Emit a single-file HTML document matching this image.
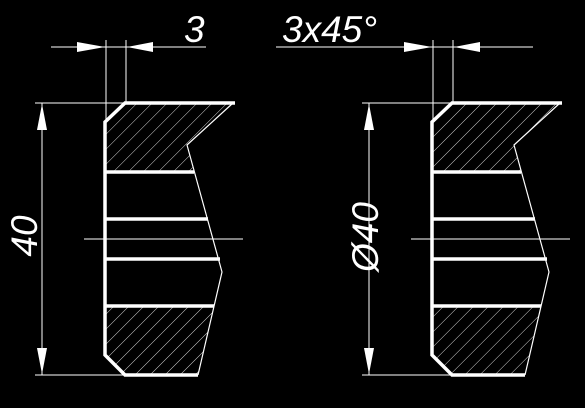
<!DOCTYPE html>
<html><head><meta charset="utf-8"><style>
html,body{margin:0;padding:0;background:#000;}
svg{display:block;}
text{font-family:"Liberation Sans",sans-serif;font-style:italic;fill:#fff;}
</style></head><body>
<svg id="d" width="585" height="408" viewBox="0 0 585 408">
<defs>
<pattern id="hatch" patternUnits="userSpaceOnUse" width="10.6" height="10.6" patternTransform="rotate(45)">
<rect width="10.6" height="10.6" fill="#000"/><line x1="0" y1="0" x2="0" y2="10.6" stroke="#fff" stroke-width="0.8"/>
</pattern>
</defs>
<g id="g1"></g>
<g id="g2"></g>
<text x="184" y="42" font-size="37">3</text>
<text x="282" y="42" font-size="37">3x45°</text>
<line x1="276" y1="47" x2="380" y2="47" stroke="#fff" stroke-width="1"/>
<text transform="translate(37,236) rotate(-90)" text-anchor="middle" font-size="37">40</text>
<text transform="translate(378,237) rotate(-90)" text-anchor="middle" font-size="37">Ø40</text>
</svg>
<script>
function el(g,tag,a){const e=document.createElementNS('http://www.w3.org/2000/svg',tag);for(const k in a)e.setAttribute(k,a[k]);g.appendChild(e);return e;}
function part(id,o,dimStart){
 const g=document.getElementById(id);
 const P=(pts)=>pts.map(p=>(p[0]+o)+','+p[1]).join(' ');
 let h1=el(g,'polygon',{points:P([[105,122],[125,103],[233,103],[187,145],[194,172],[105,172]]),fill:'url(#hatch)'});
 
 
 let h2=el(g,'polygon',{points:P([[105,306],[214,306],[198,375],[125,375],[105,355]]),fill:'url(#hatch)'});
 
 
 let thick=el(g,'polyline',{points:P([[235,103],[125,103],[105,122],[105,355],[125,375],[198,375]]),fill:'none',stroke:'#fff','stroke-width':3.5});
 
 
 let thin=el(g,'polyline',{points:P([[233,103],[187,145],[222,272],[198,375]]),fill:'none',stroke:'#fff','stroke-width':1.2});
 
 
 [[172,194],[219,208],[259,220],[306,214]].forEach(r=>{
  let l=el(g,'line',{x1:105+o,y1:r[0],x2:r[1]+o,y2:r[0],stroke:'#fff','stroke-width':3.5});
  
  
 });
 let c=el(g,'line',{x1:84+o,y1:239,x2:243+o,y2:239,stroke:'#fff','stroke-width':1});
 
 
 const thinL=[[106,40,106,122],[126,40,126,103],[dimStart,47,206,47],[35,103,125,103],[35,375,125,375],[42,103,42,375]];
 thinL.forEach(a=>{
  let l=el(g,'line',{x1:a[0]+o,y1:a[1],x2:a[2]+o,y2:a[3],stroke:'#fff','stroke-width':1});
  
  
 });
 const arrows=[[[77,42],[77,52],[105,47]],[[153,42],[153,52],[127,47]],[[37,130],[47,130],[42,104]],[[37,348],[47,348],[42,374]]];
 arrows.forEach(a=>{
  let ar=el(g,'polygon',{points:P(a),fill:'#fff'});
  
  
 });
}
part('g1',0,51);
part('g2',327,-51);
</script>
</body></html>
